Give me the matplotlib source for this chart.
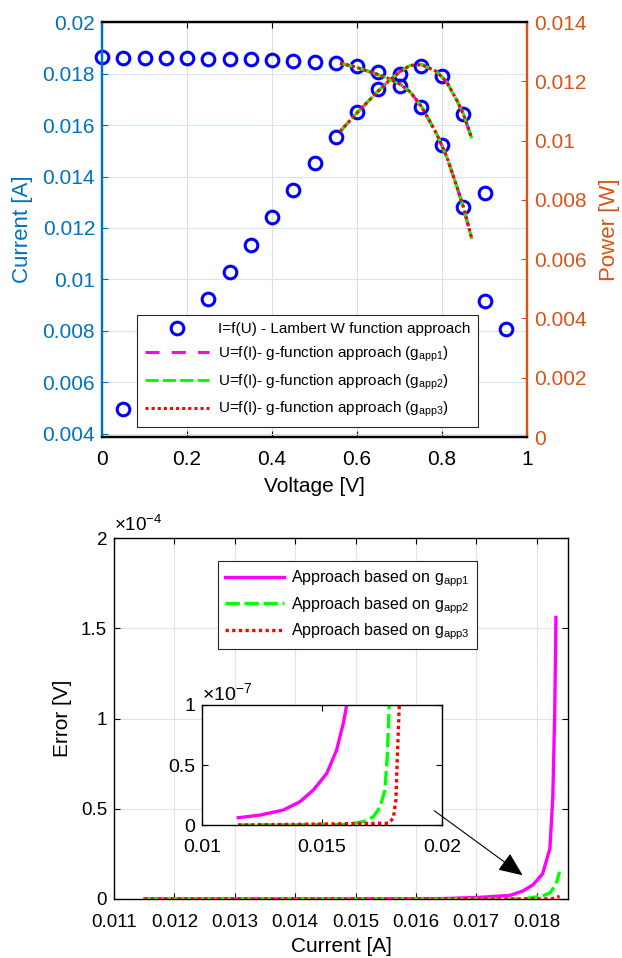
import numpy as np
import matplotlib
matplotlib.use('Agg')
import matplotlib.pyplot as plt

plt.rcParams['font.family'] = ['Liberation Sans', 'DejaVu Sans']
plt.rcParams['mathtext.fontset'] = 'custom'
plt.rcParams['mathtext.rm'] = 'Liberation Sans'
plt.rcParams['mathtext.it'] = 'Liberation Sans:italic'
plt.rcParams['mathtext.default'] = 'regular'

# Lambert W points (top plot)
volt = [0.0, 0.05, 0.1, 0.15, 0.2, 0.25, 0.3, 0.35, 0.4, 0.45,
        0.5, 0.55, 0.6, 0.65, 0.7, 0.75, 0.8, 0.85, 0.9, 0.95]
cur = [0.01863, 0.01862, 0.01861, 0.01860, 0.01859, 0.01858, 0.01857, 0.01855, 0.01853, 0.01850,
       0.01846, 0.01840, 0.01830, 0.01805, 0.01750, 0.01670, 0.01522, 0.01281, 0.00916, 0.00383]
power = [0.0, 0.00093, 0.00186, 0.00279, 0.00372, 0.00465, 0.00557, 0.00649, 0.00741, 0.00833,
         0.00923, 0.01012, 0.01098, 0.01173, 0.01225, 0.01253, 0.01218, 0.01089, 0.00824, 0.00364]

# g-function curve U=f(I)
g_cur = [0.01840, 0.01826, 0.01798, 0.01781, 0.01759, 0.01729, 0.01671,
         0.01567, 0.01477, 0.01360, 0.01283, 0.01158]
g_volt = [0.560, 0.595, 0.646, 0.674, 0.701, 0.725, 0.752,
          0.787, 0.811, 0.835, 0.850, 0.870]

# errors (bottom plot)
e1_I = [0.01151, 0.01242, 0.01339, 0.01408, 0.01464, 0.0152, 0.01561, 0.01589, 0.01603, 0.0165,
        0.0171, 0.01756, 0.01777, 0.01794, 0.0181, 0.01822, 0.018268, 0.0183, 0.01832]
e1 = [6.1e-9, 8.3e-9, 1.25e-8, 1.94e-8, 2.92e-8, 4.3e-8, 6.25e-8, 8.5e-8, 1.0e-7, 2.5e-7,
      1.0e-6, 2.0e-6, 4.4e-6, 7.8e-6, 1.4e-5, 2.8e-5, 5.6e-5, 1.03e-4, 1.56e-4]
e2_I = [0.0115, 0.0160, 0.01672, 0.01714, 0.01742, 0.01762, 0.01772, 0.0178, 0.0181, 0.01822, 0.01832, 0.01838]
e2 = [0.0, 4e-10, 2.8e-9, 6.9e-9, 1.5e-8, 2.9e-8, 5.7e-8, 1.0e-7, 1.7e-6, 3.3e-6, 8e-6, 1.5e-5]
e3_I = [0.0115, 0.01776, 0.01797, 0.01808, 0.01814, 0.01822, 0.0183, 0.01838]
e3 = [0.0, 1.5e-9, 5.6e-9, 2.1e-8, 5.7e-8, 1.0e-7, 4e-7, 1.5e-6]

labels_top = ['I=f(U) - Lambert W function approach',
              'U=f(I)- g-function approach (g$_{app1}$)',
              'U=f(I)- g-function approach (g$_{app2}$)',
              'U=f(I)- g-function approach (g$_{app3}$)']
labels_bot = ['Approach based on g$_{app1}$',
              'Approach based on g$_{app2}$',
              'Approach based on g$_{app3}$']

blue = '#0072BD'
orange = '#D95319'
mag = '#FF00FF'
grn = '#00FF00'
red = '#FF0000'

fig = plt.figure(figsize=(6.22, 9.58), dpi=100)

# ---------------- top plot ----------------
ax = fig.add_axes([0.164, 0.5438, 0.6833, 0.4332])
ax2 = ax.twinx()
ylo = 0.00388
ax.set_xlim(0, 1)
ax.set_ylim(ylo, 0.02)
ax2.set_ylim(0, 0.014)

v = np.array(volt)
c = np.array(cur)
p = np.array(power)
vis = c >= ylo
pvis = p > 0
h0, = ax.plot(v[vis], c[vis], 'o', ms=9.1, mfc='none', mec='#0000FF', mew=2.2, ls='none',
              zorder=3, clip_on=False)
ax2.plot(v[pvis], p[pvis], 'o', ms=9.1, mfc='none', mec='#0000FF', mew=2.2, ls='none',
         zorder=3, clip_on=False)

gp = np.array(g_cur) * np.array(g_volt)
styles = [(mag, (0, (4.6, 4))), (grn, (0, (4.3, 1.4))), (red, (0, (1, 1)))]
hl = []
for col, ls in styles:
    h, = ax.plot(g_volt, g_cur, color=col, lw=2.2, ls=ls, dash_capstyle='butt', zorder=4)
    ax2.plot(g_volt, gp, color=col, lw=2.2, ls=ls, dash_capstyle='butt', zorder=4)
    hl.append(h)

ax.set_xticks(np.arange(0, 1.01, 0.2))
ax.set_xticklabels(['0', '0.2', '0.4', '0.6', '0.8', '1'])
ax.set_yticks(np.arange(0.004, 0.0201, 0.002))
ax.set_yticklabels(['0.004', '0.006', '0.008', '0.01', '0.012', '0.014', '0.016', '0.018', '0.02'])
ax2.set_yticks(np.arange(0, 0.01401, 0.002))
ax2.set_yticklabels(['0', '0.002', '0.004', '0.006', '0.008', '0.01', '0.012', '0.014'])

ax.tick_params(axis='x', direction='in', top=True, length=4.5, width=0.8, labelsize=15, pad=9)
ax.tick_params(axis='y', direction='in', length=4.5, width=0.8, colors=blue, labelsize=15, pad=5)
ax2.tick_params(axis='y', direction='in', length=4.5, width=0.8, colors=orange, labelsize=15, pad=5)
for a in (ax, ax2):
    a.spines['left'].set_color(blue)
    a.spines['right'].set_color(orange)
    for s in a.spines.values():
        s.set_linewidth(1.6)

ax.set_axisbelow(True)
ax.xaxis.grid(True, color='#dedede', lw=0.8)
ax.yaxis.grid(True, color='#d5e5f1', lw=0.8)

ax.set_xlabel('Voltage [V]', fontsize=15, labelpad=6)
ax.set_ylabel('Current [A]', fontsize=16, color=blue, labelpad=7)
ax2.set_ylabel('Power [W]', fontsize=16, color=orange, labelpad=9)

leg = ax2.legend([h0] + hl, labels_top, loc='lower right', bbox_to_anchor=(0.885, 0.024),
                 fontsize=11, handlelength=4.2, handletextpad=0.6, labelspacing=0.55,
                 fancybox=False, framealpha=1, edgecolor='#262626', borderaxespad=0,
                 borderpad=0.5)
leg.get_frame().set_linewidth(0.8)

# ---------------- bottom plot ----------------
bx = fig.add_axes([0.1833, 0.0616, 0.7299, 0.3768])
bx.set_xlim(0.011, 0.01852)
bx.set_ylim(0, 2e-4)
b1, = bx.plot(e1_I, e1, color=mag, lw=2.4, zorder=3)
b2, = bx.plot(e2_I, e2, color=grn, lw=2.4, ls=(0, (4.3, 1.4)), dash_capstyle='butt', zorder=4)
b3, = bx.plot(e3_I, e3, color=red, lw=2.4, ls=(0, (1, 1)), dash_capstyle='butt', zorder=5)

bx.set_xticks(np.arange(0.011, 0.01801, 0.001))
bx.set_xticklabels(['0.011', '0.012', '0.013', '0.014', '0.015', '0.016', '0.017', '0.018'])
bx.set_yticks([0, 0.5e-4, 1e-4, 1.5e-4, 2e-4])
bx.set_yticklabels(['0', '0.5', '1', '1.5', '2'])
bx.tick_params(direction='in', top=True, right=True, length=4.5, width=0.8, labelsize=13.5)
bx.tick_params(axis='x', pad=11)
bx.tick_params(axis='y', pad=5)
for s in bx.spines.values():
    s.set_linewidth(1.0)
bx.set_axisbelow(True)
bx.grid(True, color='#e3e3e3', lw=0.8)
bx.text(0.0, 1.008, '×10$^{-4}$', transform=bx.transAxes, fontsize=13.5, ha='left', va='bottom')
bx.set_xlabel('Current [A]', fontsize=15, labelpad=4)
bx.set_ylabel('Error [V]', fontsize=15, labelpad=6)

leg2 = bx.legend([b1, b2, b3], labels_bot, loc='upper left', bbox_to_anchor=(0.229, 0.936),
                 fontsize=11.5, handlelength=3.7, handletextpad=0.4, labelspacing=0.38,
                 fancybox=False, framealpha=1, edgecolor='#262626', borderaxespad=0,
                 borderpad=0.45)
leg2.get_frame().set_linewidth(0.8)

# inset
ix = fig.add_axes([0.3248, 0.1388, 0.3858, 0.1253])
ix.plot(e1_I, e1, color=mag, lw=2.4)
ix.plot(e2_I, e2, color=grn, lw=2.4, ls=(0, (4.3, 1.4)), dash_capstyle='butt')
ix.plot(e3_I, e3, color=red, lw=2.4, ls=(0, (1, 1)), dash_capstyle='butt')
ix.set_xlim(0.01, 0.02)
ix.set_ylim(0, 1e-7)
ix.set_xticks([0.01, 0.015, 0.02])
ix.set_xticklabels(['0.01', '0.015', '0.02'])
ix.set_yticks([0, 0.5e-7, 1e-7])
ix.set_yticklabels(['0', '0.5', '1'])
ix.tick_params(direction='in', top=True, right=True, length=4, width=0.8, labelsize=14, pad=5)
ix.tick_params(axis='x', pad=10)
for s in ix.spines.values():
    s.set_linewidth(1.0)
ix.text(0.0, 1.01, '×10$^{-7}$', transform=ix.transAxes, fontsize=14, ha='left', va='bottom')

fig.patches.append(matplotlib.patches.FancyArrowPatch(
    (0.6945, 0.1555), (0.844, 0.0846), transform=fig.transFigure,
    arrowstyle='-|>,head_length=0.75,head_width=0.32', mutation_scale=20,
    color='black', lw=0.8, zorder=10))

fig.savefig('out.png', dpi=100)
